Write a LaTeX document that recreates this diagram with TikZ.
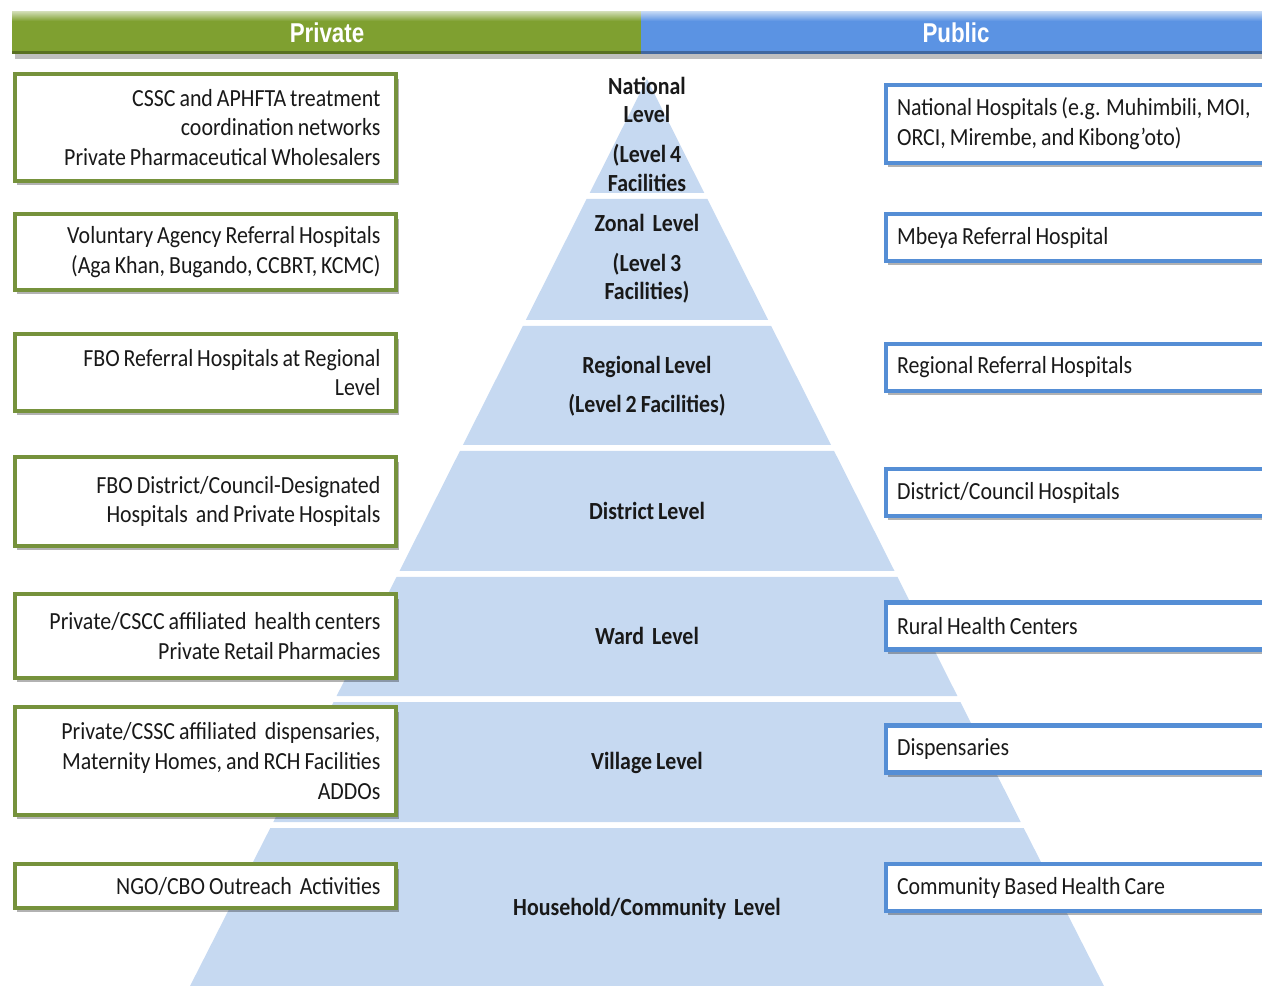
\documentclass[tikz,border=0pt]{standalone}
\usepackage{fontspec}
\setmainfont{Carlito}[FakeStretch=0.89,WordSpace=0.8]
\newfontfamily\headfont{Liberation Sans}[FakeStretch=0.82]
\usetikzlibrary{shadows}

\definecolor{privgreen}{RGB}{127,160,48}
\definecolor{privedge}{RGB}{118,146,60}
\definecolor{pubblue}{RGB}{91,147,227}
\definecolor{pubedge}{RGB}{85,142,213}
\definecolor{levelfill}{RGB}{198,217,241}
\definecolor{ink}{RGB}{25,25,25}

\tikzset{
  boxshadow/.style={drop shadow={shadow xshift=0.05cm,shadow yshift=-0.09cm,fill=black,opacity=0.3}},
  privbox/.style={draw=privedge,line width=2.3pt,fill=white,text=ink,boxshadow,
    align=flush right,text width=7.0cm,inner xsep=0.32cm,inner ysep=0pt,
    font=\fontsize{14pt}{17pt}\selectfont},
  pubbox/.style={draw=pubedge,line width=2.3pt,fill=white,text=ink,boxshadow,
    align=flush left,text width=7.6cm,inner xsep=0.23cm,inner ysep=0pt,
    minimum height=0.94cm,font=\fontsize{14pt}{17pt}\selectfont},
  level/.style={align=flush center,text=ink,font=\bfseries\fontsize{14pt}{16.4pt}\selectfont},
  head/.style={text=white,font=\headfont\bfseries\fontsize{15.5pt}{18pt}\selectfont}
}

\begin{document}
\begin{tikzpicture}[x=0.02cm,y=-0.02cm]
    \useasboundingbox (0,0) rectangle (1262,986);
    \clip (0,0) rectangle (1262,986);
    %\draw[help lines,step=50] (0,0) grid (1262,986);

    % header bars
    \fill[black,opacity=.25] (15,54) rectangle (1262,59);
    \fill[privgreen] (12,12) rectangle (641,54);
    \shade[top color=privgreen!40!white,bottom color=privgreen] (12,12) rectangle (641,21);
    \fill[privgreen!70!black] (12,51) rectangle (641,54);
    \fill[pubblue] (641,12) rectangle (1270,54);
    \shade[top color=pubblue!40!white,bottom color=pubblue] (641,12) rectangle (1270,21);
    \fill[pubblue!70!black] (641,51) rectangle (1270,54);
    \node[head] (private) at (327,33) {Private};
    \node[head] (public) at (956,33) {Public};

    % pyramid
    \fill[levelfill] (647,79) -- (704.3,193) -- (589.7,193) -- cycle;
    \fill[levelfill] (586.6,199) -- (707.4,199) -- (768.2,320) -- (525.8,320) -- cycle;
    \fill[levelfill] (522.8,326) -- (771.2,326) -- (831.1,445) -- (462.9,445) -- cycle;
    \fill[levelfill] (459.9,451) -- (834.1,451) -- (894.5,571) -- (399.5,571) -- cycle;
    \fill[levelfill] (396.5,577) -- (897.5,577) -- (957.4,696) -- (336.6,696) -- cycle;
    \fill[levelfill] (333.6,702) -- (960.4,702) -- (1020.7,822) -- (273.3,822) -- cycle;
    \fill[levelfill] (270.3,828) -- (1023.7,828) -- (1106,990) -- (188,990) -- cycle;

    \node[level] (national) at (647,134) {National\\Level\\[6pt](Level 4\\Facilities};
    \node[level] (zonal) at (647,259) {Zonal\ \ Level\\[6pt](Level 3\\Facilities)};
    \node[level] (regional) at (647,386) {Regional Level\\[6pt](Level 2 Facilities)};
    \node[level] (district) at (647,511) {District Level};
    \node[level] (ward) at (647,636) {Ward\ \ Level};
    \node[level] (village) at (647,763) {Village Level};
    \node[level] (household) at (647,909) {Household/Community\ \ Level};

    % private side
    \node[privbox,minimum height=2.14cm] (p1) at (205.5,127.5)
        {CSSC and APHFTA treatment\\coordination networks\\Private Pharmaceutical Wholesalers};
    \node[privbox,minimum height=1.52cm] (p2) at (205.5,252)
        {Voluntary Agency Referral Hospitals\\(Aga Khan, Bugando, CCBRT, KCMC)};
    \node[privbox,minimum height=1.54cm] (p3) at (205.5,372.5)
        {FBO Referral Hospitals at Regional\\Level};
    \node[privbox,minimum height=1.78cm] (p4) at (205.5,501.5)
        {FBO District/Council-Designated\\Hospitals\ \ and Private Hospitals};
    \node[privbox,minimum height=1.68cm] (p5) at (205.5,636)
        {Private/CSCC affiliated\ \ health centers\\Private Retail Pharmacies};
    \node[privbox,minimum height=2.16cm] (p6) at (205.5,761)
        {Private/CSSC affiliated\ \ dispensaries,\\Maternity Homes, and RCH Facilities\\ADDOs};
    \node[privbox,minimum height=0.88cm] (p7) at (205.5,886)
        {NGO/CBO Outreach\ \ Activities};

    % public side
    \node[pubbox,minimum height=1.56cm] (g1) at (1087,124)
        {National Hospitals (e.g. Muhimbili, MOI,\\ORCI, Mirembe, and Kibong’oto)};
    \node[pubbox] (g2) at (1087,237.5) {Mbeya Referral Hospital};
    \node[pubbox] (g3) at (1087,367.5) {Regional Referral Hospitals};
    \node[pubbox] (g4) at (1087,492.5) {District/Council Hospitals};
    \node[pubbox] (g5) at (1087,626) {Rural Health Centers};
    \node[pubbox] (g6) at (1087,749) {Dispensaries};
    \node[pubbox] (g7) at (1087,887.5) {Community Based Health Care};
\end{tikzpicture}
\end{document}
